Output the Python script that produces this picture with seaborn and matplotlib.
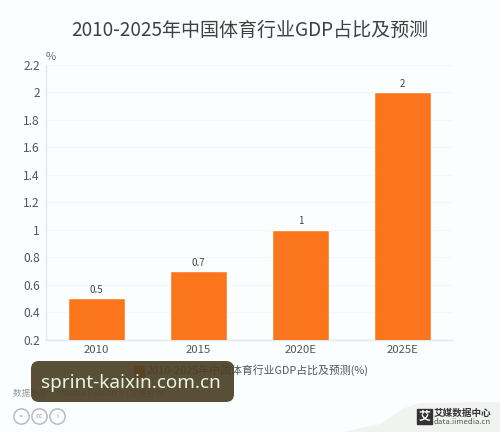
import matplotlib
matplotlib.use("Agg")
import matplotlib.pyplot as plt
from matplotlib.patches import FancyBboxPatch, Polygon, Rectangle
import seaborn as sns
import pandas as pd

categories = ["2010", "2015", "2020E", "2025E"]
values = [0.5, 0.7, 1, 2]
value_labels = ["0.5", "0.7", "1", "2"]
y_ticks = [0.2, 0.4, 0.6, 0.8, 1, 1.2, 1.4, 1.6, 1.8, 2, 2.2]
y_tick_labels = ["0.2", "0.4", "0.6", "0.8", "1", "1.2", "1.4", "1.6", "1.8", "2", "2.2"]
title = "2010-2025年中国体育行业GDP占比及预测"
legend_text = "2010-2025年中国体育行业GDP占比及预测(%)"
source_text = "数据来源：iiMedia Research (艾媒咨询)"
watermark = "sprint-kaixin.com.cn"

W, H = 500, 432
BG = "#fbfefe"
sns.set_theme(style="white")
plt.rcParams["font.family"] = ["Noto Sans CJK SC", "DejaVu Sans"]

fig = plt.figure(figsize=(W / 100, H / 100), dpi=100, facecolor=BG)
ax = fig.add_axes([45.5 / W, 1 - 339.7 / H, 408 / W, 274.7 / H], facecolor=BG)

df = pd.DataFrame({"cat": categories, "val": values})
sns.barplot(data=df, x="cat", y="val", color="#fb751d", saturation=1, width=0.55, ax=ax, zorder=3)
ax.set_xlim(-0.5, 3.5)
ax.set_ylim(0.2, 2.2)
ax.set_yticks(y_ticks, y_tick_labels)
ax.set_xlabel("")
ax.set_ylabel("")
ax.tick_params(axis="x", length=0, pad=3.6, labelsize=8.2, labelcolor="#555555")
ax.tick_params(axis="y", length=0, pad=4, labelsize=8.6, labelcolor="#555555")
ax.grid(axis="y", color="#f5f7f5", lw=0.8, zorder=0)
for s in ["top", "right"]:
    ax.spines[s].set_visible(False)
for s in ["left", "bottom"]:
    ax.spines[s].set_color("#e6e8e8")
    ax.spines[s].set_linewidth(1)

for i, (v, t) in enumerate(zip(values, value_labels)):
    ax.annotate(t, (i, v), xytext=(0, 2.5), textcoords="offset points", ha="center",
                va="bottom", fontsize=7, color="#444444")

def px(x, y):
    return x / W, 1 - y / H

fig.text(*px(250, 30), title, ha="center", va="center", fontsize=13.7, color="#404040")
fig.text(*px(51, 57), "%", ha="center", va="center", fontsize=8, color="#666666")
fig.text(*px(147, 370), legend_text, ha="left", va="center", fontsize=7.85, color="#555555")
fig.add_artist(Rectangle(px(134, 376), 10 / W, 10 / H, transform=fig.transFigure, color="#fb751d"))
fig.text(*px(13, 393.5), source_text, ha="left", va="center", fontsize=6.2, color="#999999")

# licence icons
for cx, lab in zip([21, 39, 57], ["=", "cc", "i"]):
    fig.add_artist(plt.Line2D([cx / W], [1 - 416 / H], marker="o", ms=11, mfc="none",
                              mec="#bbbbbb", mew=1.1, transform=fig.transFigure))
    fig.text(*px(cx, 416), lab, ha="center", va="center", fontsize=5.5, color="#aaaaaa")

# logo corner
fig.add_artist(Polygon([px(343, 432), px(380, 424), px(405, 408), px(420, 403), px(500, 402), px(500, 432)],
                       closed=True, transform=fig.transFigure, fc="#f1f3f1", ec="none", zorder=0))
fig.add_artist(Rectangle(px(417, 424), 15 / W, 15 / H, transform=fig.transFigure, color="#333333"))
fig.text(*px(424.5, 416), "艾", ha="center", va="center", fontsize=8.5, color="white", fontweight="bold")
fig.text(*px(462.5, 412.5), "艾媒数据中心", ha="center", va="center", fontsize=6.9, color="#333333", fontweight="bold")
fig.text(*px(462.5, 421.5), "data.iimedia.cn", ha="center", va="center", fontsize=5.6, color="#555555")

# watermark overlay
ov = fig.add_axes([0, 0, 1, 1], facecolor="none", zorder=10)
ov.set_xlim(0, W)
ov.set_ylim(H, 0)
ov.axis("off")
ov.add_patch(FancyBboxPatch((31, 361), 203, 41, boxstyle="round,pad=0,rounding_size=8",
                            fc="#4b3f25", ec="none", alpha=0.92))
ov.text(41, 383, watermark, ha="left", va="center", fontsize=13.6, color="#e8f5e4",
        family=["Noto Sans", "DejaVu Sans"])

fig.savefig("out.png", dpi=100, facecolor=BG)
